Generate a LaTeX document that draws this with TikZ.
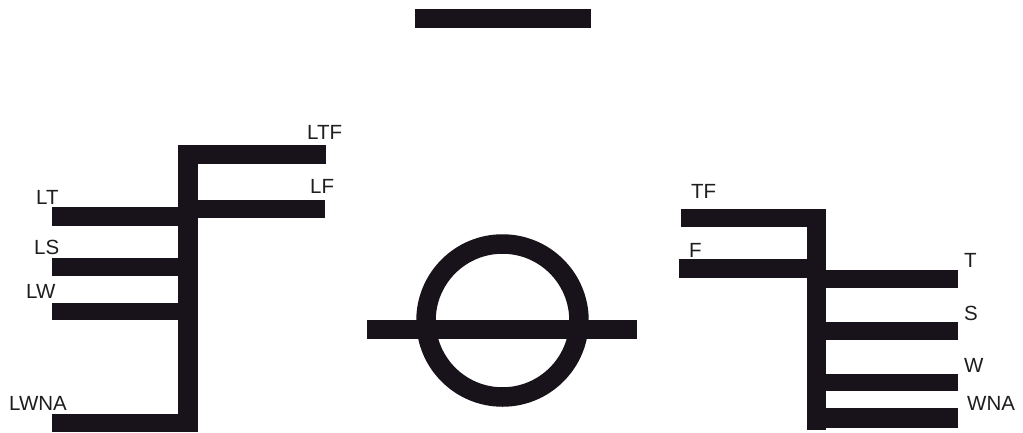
\documentclass[tikz,border=0pt]{standalone}
\usepackage{fontspec}
\setmainfont{Liberation Sans}
\definecolor{barc}{RGB}{24,18,26}
\definecolor{labc}{RGB}{30,30,30}
\tikzset{
  bar/.style={fill=barc, draw=none},
  lab/.style={anchor=base west, inner sep=0pt, text=labc, font=\fontsize{20.5}{22}\selectfont}
}
\begin{document}
\begin{tikzpicture}[x=1pt,y=-1pt]
\useasboundingbox[fill=white] (0,0) rectangle (1023,432);
% top bar
\fill[bar] (415,9) rectangle (591,28);
% circle with bar
\draw[barc, line width=19.5pt] (502.5,320.5) circle (76.5);
\fill[bar] (367,320) rectangle (637,339);
% left structure
\fill[bar] (178,145) rectangle (198,432);
\fill[bar] (178,145) rectangle (326,164);
\fill[bar] (198,200) rectangle (325,218);
\fill[bar] (52,207) rectangle (178,226);
\fill[bar] (52,258) rectangle (178,276);
\fill[bar] (52,303) rectangle (178,320);
\fill[bar] (52,414) rectangle (178,432);
\node[lab] (ltf) at (307,139) {LTF};
\node[lab] (lf) at (310,193) {LF};
\node[lab] (lt) at (36,204) {LT};
\node[lab] (ls) at (34,254) {LS};
\node[lab] (lw) at (26,298) {LW};
\node[lab] (lwna) at (9,410) {LWNA};
% right structure
\fill[bar] (807,209) rectangle (826,430);
\fill[bar] (681,209) rectangle (826,227);
\fill[bar] (679,259) rectangle (807,278);
\fill[bar] (826,270) rectangle (958,288);
\fill[bar] (826,322) rectangle (958,340);
\fill[bar] (826,374) rectangle (958,391);
\fill[bar] (807,408) rectangle (958,428);
\node[lab] (tf) at (691,198) {TF};
\node[lab] (f) at (689,257) {F};
\node[lab] (t) at (964,267) {T};
\node[lab] (s) at (964,320) {S};
\node[lab] (w) at (964,372) {W};
\node[lab] (wna) at (967,410) {WNA};
\end{tikzpicture}
\end{document}
